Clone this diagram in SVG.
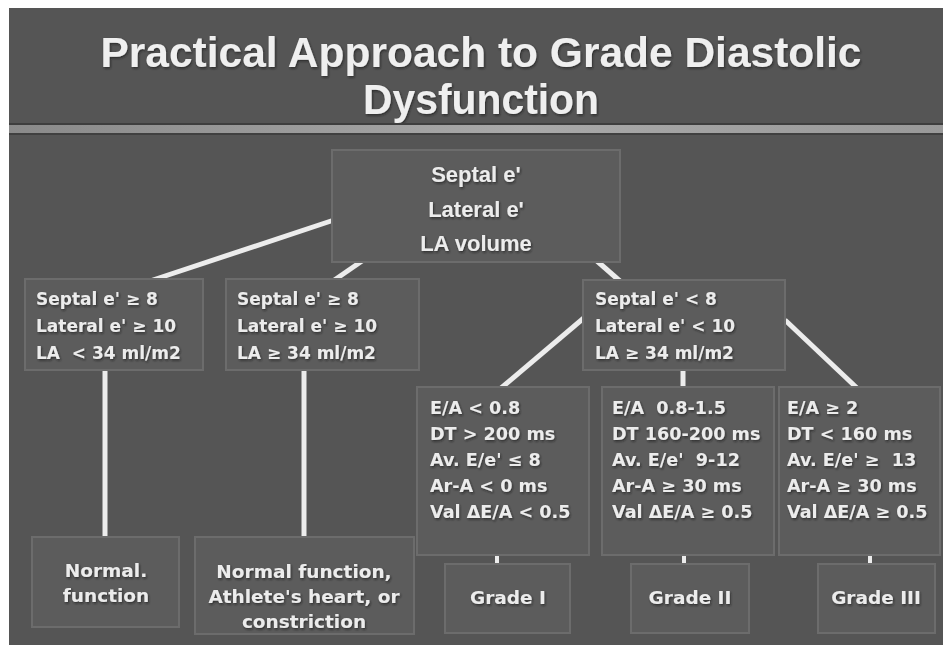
<svg xmlns="http://www.w3.org/2000/svg" width="943" height="645" viewBox="0 0 943 645">
<defs>
<linearGradient id="rule" x1="0" x2="1" y1="0" y2="0">
<stop offset="0" stop-color="#8a8a8a"/>
<stop offset="0.55" stop-color="#a9a9a9"/>
<stop offset="1" stop-color="#999"/>
</linearGradient>
<filter id="sh" x="-5%" y="-10%" width="110%" height="130%">
<feDropShadow dx="1" dy="1.5" stdDeviation="0.8" flood-color="#1e1e1e" flood-opacity="0.7"/>
</filter>
</defs>
<style>
.box{fill:#5c5c5c;stroke:#6c6c6c;stroke-width:2}
.t{font-family:"DejaVu Sans",sans-serif;font-weight:bold;font-size:17px;fill:#ececec;white-space:pre}
.r3{font-size:17.6px}
.b{font-size:18.5px}
.c{text-anchor:middle}
.title{font-family:"Liberation Sans",Arial,sans-serif;font-weight:bold;font-size:42px;fill:#efefef;text-anchor:middle}
.top{font-family:"Liberation Sans",Arial,sans-serif;font-weight:bold;font-size:22px;fill:#ececec;text-anchor:middle}
.ln{stroke:#ececec;stroke-width:5;fill:none}
.tk{stroke:#ececec;stroke-width:4;fill:none}
</style>
<rect x="0" y="0" width="943" height="645" fill="#fff"/>
<rect x="9" y="8" width="934" height="637" fill="#555"/>
<g id="title" filter="url(#sh)">
<text class="title" x="481" y="67" textLength="761" lengthAdjust="spacingAndGlyphs">Practical Approach to Grade Diastolic</text>
<text class="title" x="481" y="114" textLength="236" lengthAdjust="spacingAndGlyphs">Dysfunction</text>
</g>
<g id="rule-bar">
<rect x="9" y="123" width="934" height="2" fill="#3e3e3e"/>
<rect x="9" y="125" width="934" height="8" fill="url(#rule)"/>
<rect x="9" y="133" width="934" height="2" fill="#404040"/>
</g>
<g id="connectors">
<line class="ln" x1="150" y1="281" x2="334" y2="220"/>
<line class="ln" x1="333" y1="281" x2="362" y2="261"/>
<line class="ln" x1="597" y1="261" x2="621" y2="282"/>
<line class="ln" x1="105" y1="368" x2="105" y2="539"/>
<line class="ln" x1="304" y1="368" x2="304" y2="539"/>
<line class="ln" x1="500" y1="389" x2="585" y2="317"/>
<line class="ln" x1="683" y1="368" x2="683" y2="389"/>
<line class="ln" x1="785" y1="320" x2="858" y2="389"/>
<line class="tk" x1="497" y1="553" x2="497" y2="566"/>
<line class="tk" x1="684" y1="553" x2="684" y2="566"/>
<line class="tk" x1="870" y1="553" x2="870" y2="566"/>
</g>
<g id="node-root">
<rect class="box" x="332" y="150" width="288" height="112"/>
<g filter="url(#sh)">
<text class="top" x="476" y="182">Septal e'</text>
<text class="top" x="476" y="217">Lateral e'</text>
<text class="top" x="476" y="251">LA volume</text>
</g>
</g>
<g id="node-normal-la">
<rect class="box" x="25" y="279" width="178" height="91"/>
<g filter="url(#sh)">
<text class="t" x="36" y="305">Septal e' ≥ 8</text>
<text class="t" x="36" y="332">Lateral e' ≥ 10</text>
<text class="t" x="36" y="359">LA  &lt; 34 ml/m2</text>
</g>
</g>
<g id="node-normal-bigla">
<rect class="box" x="226" y="279" width="193" height="91"/>
<g filter="url(#sh)">
<text class="t" x="237" y="305">Septal e' ≥ 8</text>
<text class="t" x="237" y="332">Lateral e' ≥ 10</text>
<text class="t" x="237" y="359">LA ≥ 34 ml/m2</text>
</g>
</g>
<g id="node-abnormal">
<rect class="box" x="583" y="280" width="202" height="90"/>
<g filter="url(#sh)">
<text class="t" x="595" y="305">Septal e' &lt; 8</text>
<text class="t" x="595" y="332">Lateral e' &lt; 10</text>
<text class="t" x="595" y="359">LA ≥ 34 ml/m2</text>
</g>
</g>
<g id="node-crit1">
<rect class="box" x="417" y="387" width="172" height="168"/>
<g filter="url(#sh)">
<text class="t r3" x="430" y="414">E/A &lt; 0.8</text>
<text class="t r3" x="430" y="440">DT &gt; 200 ms</text>
<text class="t r3" x="430" y="466">Av. E/e' ≤ 8</text>
<text class="t r3" x="430" y="492">Ar-A &lt; 0 ms</text>
<text class="t r3" x="430" y="518">Val ΔE/A &lt; 0.5</text>
</g>
</g>
<g id="node-crit2">
<rect class="box" x="602" y="387" width="172" height="168"/>
<g filter="url(#sh)">
<text class="t r3" x="612" y="414">E/A  0.8-1.5</text>
<text class="t r3" x="612" y="440">DT 160-200 ms</text>
<text class="t r3" x="612" y="466">Av. E/e'  9-12</text>
<text class="t r3" x="612" y="492">Ar-A ≥ 30 ms</text>
<text class="t r3" x="612" y="518">Val ΔE/A ≥ 0.5</text>
</g>
</g>
<g id="node-crit3">
<rect class="box" x="779" y="387" width="161" height="168"/>
<g filter="url(#sh)">
<text class="t r3" x="787" y="414">E/A ≥ 2</text>
<text class="t r3" x="787" y="440">DT &lt; 160 ms</text>
<text class="t r3" x="787" y="466">Av. E/e' ≥  13</text>
<text class="t r3" x="787" y="492">Ar-A ≥ 30 ms</text>
<text class="t r3" x="787" y="518">Val ΔE/A ≥ 0.5</text>
</g>
</g>
<g id="node-normal-function">
<rect class="box" x="32" y="537" width="147" height="90"/>
<g filter="url(#sh)">
<text class="t b c" x="106" y="577">Normal.</text>
<text class="t b c" x="106" y="602">function</text>
</g>
</g>
<g id="node-athlete">
<rect class="box" x="195" y="537" width="219" height="97"/>
<g filter="url(#sh)">
<text class="t b c" x="304" y="578">Normal function,</text>
<text class="t b c" x="304" y="603">Athlete's heart, or</text>
<text class="t b c" x="304" y="628">constriction</text>
</g>
</g>
<g id="node-grade1">
<rect class="box" x="445" y="564" width="125" height="69"/>
<text class="t b c" x="508" y="604" filter="url(#sh)">Grade I</text>
</g>
<g id="node-grade2">
<rect class="box" x="631" y="564" width="118" height="69"/>
<text class="t b c" x="690" y="604" filter="url(#sh)">Grade II</text>
</g>
<g id="node-grade3">
<rect class="box" x="818" y="564" width="117" height="69"/>
<text class="t b c" x="876" y="604" filter="url(#sh)">Grade III</text>
</g>
</svg>
